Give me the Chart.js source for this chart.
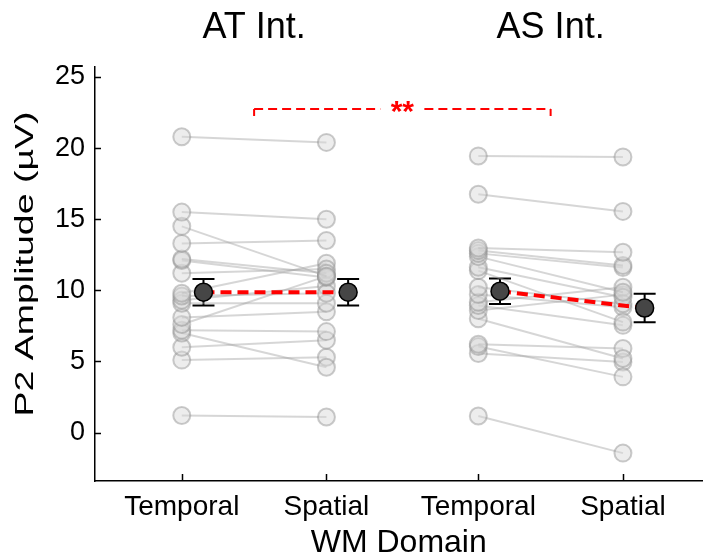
<!DOCTYPE html>
<html>
<head>
<meta charset="utf-8">
<script src="https://cdn.jsdelivr.net/npm/chart.js@4"></script>
<style>
  html, body { margin: 0; padding: 0; background: #fff; overflow: hidden; }
  #wrap { width: 713px; height: 559px; }
</style>
</head>
<body>
<div id="wrap"><canvas id="p2Chart"></canvas></div>
<script>
    // ---------------- Data ----------------
    const groupTitles = ['AT Int.', 'AS Int.'];
    const xLabels = ['Temporal', 'Spatial', 'Temporal', 'Spatial'];
    const xPositions = [0, 1, 2.05, 3.05];
    const yTicks = [0, 5, 10, 15, 20, 25];
    const yTitle = 'P2 Amplitude (µV)';
    const xTitle = 'WM Domain';

    // per-subject P2 amplitude (µV), paired by index
    const atTemporal = [20.8, 15.5, 14.5, 13.3, 12.2, 12.1, 11.2, 9.8, 9.6, 9.3, 9.1, 8.1, 7.6, 7.2, 7.0, 6.0, 5.1, 1.2];
    const atSpatial  = [20.4, 15.0, 11.0, 13.5, 11.2, 10.9, 11.5, 11.9, 9.8, 10.3, 9.1, 8.5, 11.0, 7.1, 4.6, 6.5, 5.3, 1.1];
    const asTemporal = [19.45, 16.76, 12.98, 12.8, 12.6, 12.37, 11.63, 11.39, 10.22, 9.71, 9.17, 8.94, 8.59, 8.01, 6.21, 6.05, 5.56, 1.17];
    const asSpatial  = [19.38, 15.55, 12.68, 11.75, 11.6, 9.87, 9.52, 7.77, 9.06, 8.82, 10.22, 7.54, 9.7, 5.21, 5.91, 3.92, 4.97, -1.44];

    // group means and SEM: AT temporal, AT spatial, AS temporal, AS spatial
    const meanValues = [9.87, 9.87, 9.94, 8.76];
    const semValues  = [0.93, 0.93, 0.90, 1.00];
    const sigLabel = '**';

    const FONT = "'Liberation Sans', Arial, Helvetica, sans-serif";
    const MEAN_SHIFT = 0.15;
    const meanX = xPositions.map(x => x + MEAN_SHIFT);

    // ---------------- Datasets ----------------
    function pairedSets(temporal, spatial, x0, x1) {
        return temporal.map((t, i) => ({
            type: 'line',
            data: [{ x: x0, y: t }, { x: x1, y: spatial[i] }],
            borderColor: 'rgba(165,165,165,0.45)',
            borderWidth: 2,
            pointRadius: 8.5,
            pointBackgroundColor: 'rgba(215,215,215,0.45)',
            pointBorderColor: 'rgba(140,140,140,0.45)',
            pointBorderWidth: 2,
            order: 3,
            clip: false
        }));
    }

    const datasets = [
        ...pairedSets(atTemporal, atSpatial, xPositions[0], xPositions[1]),
        ...pairedSets(asTemporal, asSpatial, xPositions[2], xPositions[3])
    ];

    [[0, 1], [2, 3]].forEach(([a, b]) => {
        datasets.push({
            type: 'line',
            data: [{ x: meanX[a], y: meanValues[a] }, { x: meanX[b], y: meanValues[b] }],
            borderColor: '#ff0000',
            borderWidth: 4,
            borderDash: [11, 6],
            pointRadius: 0,
            order: 1
        });
    });

    datasets.push({
        type: 'scatter',
        data: meanValues.map((m, i) => ({ x: meanX[i], y: m })),
        pointRadius: 9,
        pointBackgroundColor: '#464646',
        pointBorderColor: '#000',
        pointBorderWidth: 1.5,
        order: 0,
        clip: false
    });

    // ---------------- Plugins ----------------
    const errorBars = {
        id: 'errorBars',
        beforeDatasetsDraw(chart) {
            const { ctx, scales: { x, y } } = chart;
            ctx.save();
            ctx.strokeStyle = '#000';
            ctx.lineWidth = 2;
            meanValues.forEach((m, i) => {
                const px = x.getPixelForValue(meanX[i]);
                const top = y.getPixelForValue(m + semValues[i]);
                const bot = y.getPixelForValue(m - semValues[i]);
                ctx.beginPath();
                ctx.moveTo(px, top); ctx.lineTo(px, bot);
                ctx.moveTo(px - 11, top); ctx.lineTo(px + 11, top);
                ctx.moveTo(px - 11, bot); ctx.lineTo(px + 11, bot);
                ctx.stroke();
            });
            ctx.restore();
        }
    };

    const decorations = {
        id: 'decorations',
        afterDraw(chart) {
            const { ctx, chartArea, scales: { x, y } } = chart;
            ctx.save();

            // inward tick marks
            ctx.strokeStyle = '#000';
            ctx.lineWidth = 1.5;
            ctx.beginPath();
            xPositions.forEach(v => {
                const px = Math.round(x.getPixelForValue(v)) + 0.5;
                ctx.moveTo(px, chartArea.bottom);
                ctx.lineTo(px, chartArea.bottom - 7);
            });
            yTicks.forEach(v => {
                const py = Math.round(y.getPixelForValue(v)) + 0.5;
                ctx.moveTo(chartArea.left, py);
                ctx.lineTo(chartArea.left + 6, py);
            });
            ctx.stroke();

            // y axis title, drawn rotated and stretched along its length
            ctx.save();
            ctx.fillStyle = '#000';
            ctx.font = `26px ${FONT}`;
            ctx.textAlign = 'center';
            ctx.textBaseline = 'alphabetic';
            const w = ctx.measureText(yTitle).width;
            ctx.translate(33, 264);
            ctx.rotate(-Math.PI / 2);
            ctx.scale(305 / w, 1);
            ctx.fillText(yTitle, 0, 0);
            ctx.restore();

            // group titles
            ctx.fillStyle = '#000';
            ctx.font = `36px ${FONT}`;
            ctx.textAlign = 'center';
            ctx.textBaseline = 'middle';
            [[0, 1], [2, 3]].forEach(([a, b], g) => {
                const cx = x.getPixelForValue((xPositions[a] + xPositions[b]) / 2);
                ctx.fillText(groupTitles[g], cx, 28);
            });

            // significance bracket
            const left = x.getPixelForValue((xPositions[0] + xPositions[1]) / 2);
            const right = x.getPixelForValue((xPositions[2] + xPositions[3]) / 2);
            const by = y.getPixelForValue(22.75);
            const mid = (left + right) / 2;
            ctx.strokeStyle = '#ff0000';
            ctx.lineWidth = 2;
            ctx.setLineDash([9, 5]);
            ctx.beginPath();
            ctx.moveTo(left, by); ctx.lineTo(mid - 22, by);
            ctx.moveTo(mid + 22, by); ctx.lineTo(right, by);
            ctx.stroke();
            ctx.setLineDash([]);
            ctx.beginPath();
            ctx.moveTo(left, by); ctx.lineTo(left, by + 7);
            ctx.moveTo(right, by); ctx.lineTo(right, by + 7);
            ctx.stroke();
            ctx.fillStyle = '#ff0000';
            ctx.font = `bold 30px ${FONT}`;
            ctx.fillText(sigLabel, mid, by + 4);

            ctx.restore();
        }
    };

    // ---------------- Chart ----------------
    new Chart(document.getElementById('p2Chart').getContext('2d'), {
        type: 'line',
        data: { datasets },
        options: {
            responsive: true,
            maintainAspectRatio: false,
            animation: false,
            layout: { padding: { top: 67, right: 1, left: 0, bottom: 0 } },
            plugins: { legend: { display: false }, tooltip: { enabled: false } },
            scales: {
                x: {
                    type: 'linear',
                    min: -0.6,
                    max: 3.6,
                    afterBuildTicks: scale => { scale.ticks = xPositions.map(v => ({ value: v })); },
                    afterFit: scale => {
                        scale.height = 78;
                        scale.paddingLeft = 0;
                        scale.paddingRight = 0;
                    },
                    grid: { display: false, drawTicks: false },
                    border: { display: true, color: '#000', width: 1.5 },
                    ticks: {
                        autoSkip: false,
                        maxRotation: 0,
                        padding: 9,
                        color: '#000',
                        font: { family: FONT, size: 28 },
                        callback: (v, i) => xLabels[i]
                    },
                    title: {
                        display: true,
                        text: xTitle,
                        color: '#000',
                        font: { family: FONT, size: 32, lineHeight: 1.0 },
                        padding: { top: 0, bottom: 0 }
                    }
                },
                y: {
                    min: -3.4,
                    max: 25.7,
                    afterBuildTicks: scale => { scale.ticks = yTicks.map(v => ({ value: v })); },
                    afterFit: scale => {
                        scale.width = 95;
                        scale.paddingTop = 0;
                        scale.paddingBottom = 0;
                    },
                    grid: { display: false, drawTicks: false },
                    border: { display: true, color: '#000', width: 1.5 },
                    ticks: {
                        padding: 10,
                        color: '#000',
                        font: { family: FONT, size: 27 }
                    }
                }
            }
        },
        plugins: [errorBars, decorations]
    });
</script>
</body>
</html>
